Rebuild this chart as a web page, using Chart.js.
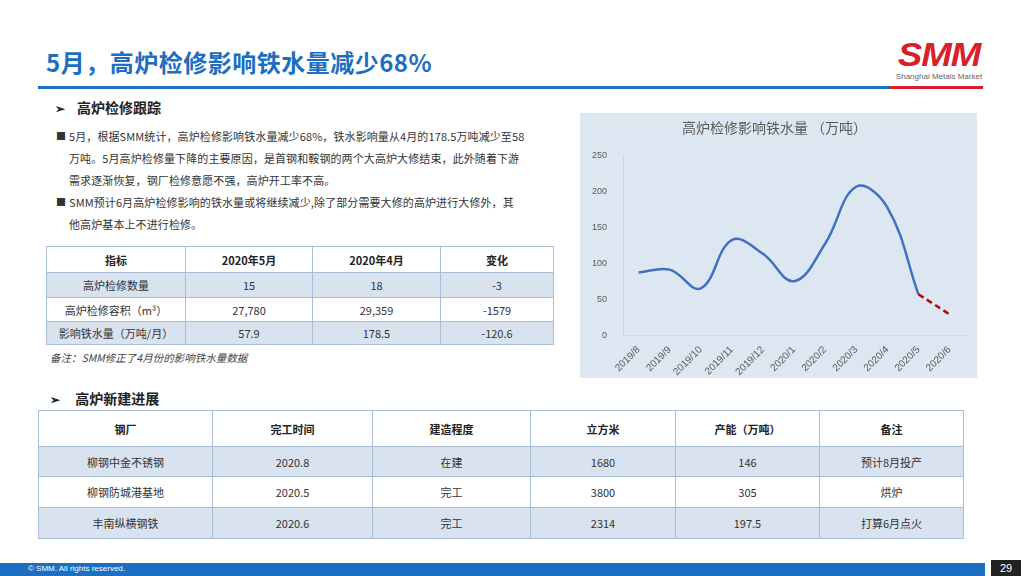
<!DOCTYPE html>
<html>
<head>
<meta charset="utf-8">
<script src="https://cdn.jsdelivr.net/npm/chart.js@4"></script>
<style>
  body { margin: 0; width: 1024px; height: 576px; position: relative; overflow: hidden; background: #fff;
    font-family: "Noto Sans CJK SC", "Noto Sans", sans-serif; color: #222; }
  .abs { position: absolute; }
  #title { left: 46px; top: 44px; font-size: 24px; font-weight: bold; color: #1b6ec2; letter-spacing: 0.5px; white-space: nowrap; }
  #bar-blue { left: 38px; top: 86px; width: 852px; height: 3px; background: #1b6ec2; }
  #bar-red { left: 890px; top: 86px; width: 93px; height: 3px; background: #d7202a; }
  #logo { left: 893px; top: 38px; width: 92px; text-align: center; }
  #logo .smm { font-family: "Liberation Sans", Arial, sans-serif; font-weight: bold; font-style: italic; font-size: 34px;
    color: #d7202a; line-height: 32px; letter-spacing: -1px; transform: scaleX(1.08); }
  #logo .sub { font-family: "Liberation Sans", Arial, sans-serif; font-size: 8px; color: #666; margin-top: 2px; white-space: nowrap; }
  .h2 { font-size: 14px; font-weight: bold; white-space: nowrap; }
  .h2 span.arr { font-size: 12px; margin-right: 12px; }
  .bul { left: 56px; font-size: 11px; line-height: 22px; color: #333; white-space: nowrap; letter-spacing: 0.1px; }
  .bul p { margin: 0; padding-left: 13px; position: relative; }
  .bul p:before { content: "■"; position: absolute; left: 0; top: 0; font-size: 10px; }
  table { border-collapse: collapse; position: absolute; table-layout: fixed; }
  td { border: 1px solid #a9bdd9; text-align: center; padding: 0; font-size: 11px; color: #333; }
  tr.hd td { font-weight: bold; background: #fff; color: #222; }
  tr.sh td { background: #d9e3f0; }
  #note { left: 50px; top: 350px; font-size: 10.5px; font-style: italic; color: #444; }
  #panel { left: 580px; top: 113px; width: 397px; height: 265px; background: #dde7f2; }
  #foot { left: 0; top: 563px; width: 985px; height: 13px; background: #1b6ec2; }
  #foot span { font-family: "Liberation Sans", Arial, sans-serif; font-size: 8px; color: #fff; position: absolute; left: 28px; top: 1px; }
  #page { left: 991px; top: 560px; width: 30px; height: 16px; background: #222; color: #fff; font-family: "Liberation Sans", Arial, sans-serif;
    font-size: 11px; text-align: center; line-height: 16px; }
</style>
</head>
<body>
<div id="title" class="abs">5月，高炉检修影响铁水量减少68%</div>
<div id="bar-blue" class="abs"></div>
<div id="bar-red" class="abs"></div>
<div id="logo" class="abs"><div class="smm">SMM</div><div class="sub">Shanghai Metals Market</div></div>

<div class="abs h2" style="left:55px; top:97px;"><span class="arr">➢</span>高炉检修跟踪</div>
<div class="abs bul" style="top:125px;">
  <p>5月，根据SMM统计，高炉检修影响铁水量减少68%，铁水影响量从4月的178.5万吨减少至58<br>万吨。5月高炉检修量下降的主要原因，是首钢和鞍钢的两个大高炉大修结束，此外随着下游<br>需求逐渐恢复，钢厂检修意愿不强，高炉开工率不高。</p>
  <p>SMM预计6月高炉检修影响的铁水量或将继续减少,除了部分需要大修的高炉进行大修外，其<br>他高炉基本上不进行检修。</p>
</div>

<table id="t1" style="left:46px; top:246px; width:507px;">
  <colgroup><col style="width:139px"><col style="width:127px"><col style="width:128px"><col style="width:113px"></colgroup>
  <tr class="hd" style="height:26px"><td>指标</td><td>2020年5月</td><td>2020年4月</td><td>变化</td></tr>
  <tr class="sh" style="height:25px"><td>高炉检修数量</td><td>15</td><td>18</td><td>-3</td></tr>
  <tr style="height:24px"><td>高炉检修容积（m³）</td><td>27,780</td><td>29,359</td><td>-1579</td></tr>
  <tr class="sh" style="height:23px"><td>影响铁水量（万吨/月）</td><td>57.9</td><td>178.5</td><td>-120.6</td></tr>
</table>
<div id="note" class="abs">备注：SMM修正了4月份的影响铁水量数据</div>

<div id="panel" class="abs"><canvas id="chart"></canvas></div>

<div class="abs h2" style="left:50px; top:388px;"><span class="arr">➢</span>&nbsp;高炉新建进展</div>
<table id="t2" style="left:38px; top:410px; width:925px;">
  <colgroup><col style="width:174px"><col style="width:160px"><col style="width:158px"><col style="width:145px"><col style="width:144px"><col style="width:144px"></colgroup>
  <tr class="hd" style="height:36px"><td>钢厂</td><td>完工时间</td><td>建造程度</td><td>立方米</td><td>产能（万吨）</td><td>备注</td></tr>
  <tr class="sh" style="height:30px"><td>柳钢中金不锈钢</td><td>2020.8</td><td>在建</td><td>1680</td><td>146</td><td>预计8月投产</td></tr>
  <tr style="height:31px"><td>柳钢防城港基地</td><td>2020.5</td><td>完工</td><td>3800</td><td>305</td><td>烘炉</td></tr>
  <tr class="sh" style="height:31px"><td>丰南纵横钢铁</td><td>2020.6</td><td>完工</td><td>2314</td><td>197.5</td><td>打算6月点火</td></tr>
</table>

<div id="foot" class="abs"><span>© SMM. All rights reserved.</span></div>
<div id="page" class="abs">29</div>

<script>
// 月份
const months = ["2019/8", "2019/9", "2019/10", "2019/11", "2019/12", "2020/1",
  "2020/2", "2020/3", "2020/4", "2020/5", "2020/6"];

// 实际值（万吨）
const actual = [88, 92, 66, 133, 114, 76, 128, 207, 178.5, 57.9, null];

// 预测值（虚线）
const forecast = [null, null, null, null, null, null, null, null, null, 57.9, 30];

const yTicks = { min: 0, max: 250, step: 50 };

const config = {
  type: "line",
  data: {
    labels: months,
    datasets: [
      {
        label: "实际",
        data: actual,
        borderColor: "#4070c0",
        borderWidth: 2.5,
        pointRadius: 0,
        tension: 0.4,
        fill: false,
      },
      {
        label: "预计",
        data: forecast,
        borderColor: "#c00000",
        borderWidth: 2.5,
        borderDash: [6, 4],
        pointRadius: 0,
        tension: 0.4,
        fill: false,
      },
    ],
  },
  options: {
    responsive: true,
    maintainAspectRatio: false,
    animation: false,
    layout: { padding: { left: 4, right: 12, top: 0, bottom: 0 } },
    scales: {
      x: {
        offset: true,
        grid: { display: false },
        border: { color: "#d0d6de" },
        ticks: { color: "#595959", font: { size: 10 }, minRotation: 45, maxRotation: 45, padding: 0 },
      },
      y: {
        min: yTicks.min,
        max: yTicks.max,
        grid: { display: false },
        border: { color: "#d0d6de" },
        ticks: { stepSize: yTicks.step, color: "#595959", font: { size: 9 }, padding: 8 },
      },
    },
    plugins: {
      legend: { display: false },
      tooltip: { enabled: false },
      title: {
        display: true,
        text: "高炉检修影响铁水量 （万吨）",
        color: "#595959",
        font: { size: 14, weight: "normal", family: "'Noto Sans CJK SC', sans-serif" },
        padding: { top: 6, bottom: 20 },
      },
    },
  },
};

const ctx = document.querySelector("#chart").getContext("2d");
const chart = new Chart(ctx, config);
</script>
</body>
</html>
